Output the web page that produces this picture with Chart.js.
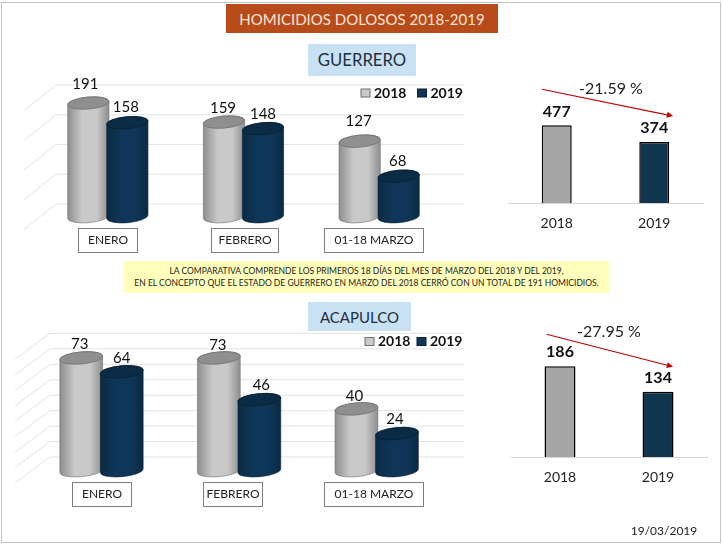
<!DOCTYPE html>
<html lang="es">
<head>
<meta charset="utf-8">
<title>Homicidios dolosos 2018-2019</title>
<script src="https://cdn.jsdelivr.net/npm/chart.js@4/dist/chart.umd.min.js"></script>
<style>
  html, body { margin: 0; padding: 0; background: #fff; overflow: hidden; }
  #page { position: relative; width: 723px; height: 546px; overflow: hidden; font-family: Lato, sans-serif; }
  #frame { position: absolute; left: 1px; top: 2px; width: 720px; height: 541px; border: 1px solid #c4c4c4; box-sizing: border-box; }
  canvas { position: absolute; left: 0; top: 0; }
  .tag { position: absolute; display: flex; align-items: center; justify-content: center; white-space: nowrap; z-index: 2; }
  #title { left: 226px; top: 4px; width: 272px; height: 29px; background: #b84b1a; color: #fbe5d6; font-size: 15px; }
  .place { background: #c8e1f3; color: #1f2f3f; }
  #guerrero { left: 308px; top: 44px; width: 108px; height: 32px; font-size: 16.7px; }
  #acapulco { left: 308px; top: 302px; width: 103px; height: 29px; font-size: 15px; }
  #note { left: 124px; top: 261px; width: 485px; height: 32px; background: #ffffbb; color: #222; font-size: 8.5px; line-height: 12px; text-align: center; }
  #date { left: 631px; top: 523px; width: 66px; height: 15px; color: #222; font-size: 12px; }
</style>
</head>
<body>
<div id="page">
  <div id="frame"></div>
  <div class="tag" id="title">HOMICIDIOS DOLOSOS 2018-2019</div>
  <div class="tag place" id="guerrero">GUERRERO</div>
  <div class="tag" id="note"><span>LA COMPARATIVA COMPRENDE LOS PRIMEROS 18 DÍAS DEL MES DE MARZO DEL 2018 Y DEL 2019,<br>EN EL CONCEPTO QUE EL ESTADO DE GUERRERO EN MARZO DEL 2018 CERRÓ CON UN TOTAL DE 191 HOMICIDIOS.</span></div>
  <div class="tag place" id="acapulco">ACAPULCO</div>
  <div class="tag" id="date">19/03/2019</div>
</div>
<script>
const months = ['ENERO', 'FEBRERO', '01-18 MARZO'];
const years = ['2018', '2019'];
const guerrero2018 = [191, 159, 127];
const guerrero2019 = [158, 148, 68];
const guerreroTotals = [477, 374];
const acapulco2018 = [73, 73, 40];
const acapulco2019 = [64, 46, 24];
const acapulcoTotals = [186, 134];

const pageW = 723;
const pageH = 546;
const gray = '#a6a6a6';
const navy = '#10354f';
const fontName = 'Lato, sans-serif';

Chart.defaults.animation = false;
Chart.defaults.font.family = fontName;

function addCanvas() {
  const c = document.createElement('canvas');
  c.width = pageW;
  c.height = pageH;
  document.getElementById('page').appendChild(c);
  return c.getContext('2d');
}

function areaPadding(left, top, right, bottom) {
  return { left: left, top: top, right: pageW - right, bottom: pageH - bottom };
}

function centerText(ctx, text, x, y, font, color) {
  ctx.font = font;
  ctx.fillStyle = color;
  ctx.textAlign = 'center';
  ctx.textBaseline = 'middle';
  ctx.fillText(text, x, y);
}

function drawCylinder(ctx, x, top, base, rx, shades) {
  const ry = 6;
  const tilt = -0.09;
  const grad = ctx.createLinearGradient(x - rx, 0, x + rx, 0);
  grad.addColorStop(0, shades[0]);
  grad.addColorStop(0.35, shades[1]);
  grad.addColorStop(0.7, shades[1]);
  grad.addColorStop(1, shades[0]);

  ctx.beginPath();
  ctx.ellipse(x, base, rx, ry, tilt, 0, Math.PI);
  ctx.ellipse(x, top, rx, ry, tilt, Math.PI, Math.PI * 2);
  ctx.closePath();
  ctx.fillStyle = grad;
  ctx.fill();
  ctx.strokeStyle = shades[3];
  ctx.lineWidth = 0.6;
  ctx.stroke();

  ctx.beginPath();
  ctx.ellipse(x, top, rx, ry, tilt, 0, Math.PI * 2);
  ctx.fillStyle = shades[2];
  ctx.fill();
  ctx.strokeStyle = shades[3];
  ctx.lineWidth = 0.8;
  ctx.stroke();
}

// gridlines, cylinders, value labels, boxed months and legend of the big charts
const cylinderPlugin = {
  id: 'cylinders',
  beforeDatasetsDraw(chart, args, o) {
    const ctx = chart.ctx;
    const y = chart.scales.y;
    ctx.save();
    ctx.strokeStyle = '#e3e3e3';
    ctx.lineWidth = 1;
    y.ticks.forEach(t => {
      const py = y.getPixelForValue(t.value) - o.backDrop;
      ctx.beginPath();
      ctx.moveTo(o.gridRight, py);
      ctx.lineTo(o.gridLeft, py);
      ctx.lineTo(o.gridLeft - o.sideX, py + o.sideY);
      ctx.stroke();
    });

    chart.data.datasets.forEach((ds, d) => {
      chart.getDatasetMeta(d).data.forEach(bar => {
        drawCylinder(ctx, bar.x, bar.y, bar.base, bar.width / 2 + 1.2, ds.shades);
      });
    });

    chart.data.datasets.forEach((ds, d) => {
      chart.getDatasetMeta(d).data.forEach((bar, i) => {
        const s = o.labelShift[d][i];
        centerText(ctx, ds.data[i], bar.x + s[0], bar.y + s[1], '15px ' + fontName, '#111');
      });
    });

    chart.data.labels.forEach((label, i) => {
      const b = o.boxes[i];
      ctx.strokeStyle = '#7f7f7f';
      ctx.lineWidth = 1;
      ctx.strokeRect(b[0] + 0.5, o.boxTop + 0.5, b[1], o.boxH);
      centerText(ctx, label, b[0] + b[1] / 2 + 0.5, o.boxTop + o.boxH / 2 + 0.5, '12px ' + fontName, '#222');
    });

    chart.data.datasets.forEach((ds, d) => {
      const k = o.legend[d];
      ctx.fillStyle = ds.shades[1];
      ctx.fillRect(k, o.legendY - 4, 9, 8);
      ctx.strokeStyle = ds.shades[3];
      ctx.lineWidth = 1;
      ctx.strokeRect(k, o.legendY - 4, 9, 8);
      ctx.font = 'bold 14px ' + fontName;
      ctx.fillStyle = '#111';
      ctx.textAlign = 'left';
      ctx.textBaseline = 'middle';
      ctx.fillText(ds.label, k + 13, o.legendY);
    });
    ctx.restore();
    return false;
  }
};

// bold totals above the bars and the red trend arrow
const totalsPlugin = {
  id: 'totals',
  afterDatasetsDraw(chart, args, o) {
    const ctx = chart.ctx;
    const ds = chart.data.datasets[0];
    const bars = chart.getDatasetMeta(0).data;
    ctx.save();
    bars.forEach((bar, i) => {
      centerText(ctx, ds.data[i], bar.x, bar.y + o.labelDy[i], 'bold 16px ' + fontName, '#111');
    });

    const x1 = bars[0].x - bars[0].width / 2 + o.from[0];
    const y1 = bars[0].y + o.from[1];
    const x2 = bars[1].x + bars[1].width / 2 + o.to[0];
    const y2 = bars[1].y + o.to[1];
    const ang = Math.atan2(y2 - y1, x2 - x1);
    ctx.strokeStyle = '#c00000';
    ctx.fillStyle = '#c00000';
    ctx.lineWidth = 1.1;
    ctx.beginPath();
    ctx.moveTo(x1, y1);
    ctx.lineTo(x2 - 5 * Math.cos(ang), y2 - 5 * Math.sin(ang));
    ctx.stroke();
    ctx.beginPath();
    ctx.moveTo(x2, y2);
    ctx.lineTo(x2 - 7 * Math.cos(ang - 0.45), y2 - 7 * Math.sin(ang - 0.45));
    ctx.lineTo(x2 - 7 * Math.cos(ang + 0.45), y2 - 7 * Math.sin(ang + 0.45));
    ctx.closePath();
    ctx.fill();
    centerText(ctx, o.text, o.textX, o.textY, '16px ' + fontName, '#222');
    ctx.restore();
  }
};

function cylinderChart(s2018, s2019, pad, catPct, yMax, step, opts) {
  return new Chart(addCanvas(), {
    type: 'bar',
    data: {
      labels: months,
      datasets: [
        { label: years[0], data: s2018, backgroundColor: gray, shades: ['#8e8e8e', '#c9c9c9', '#8f8f8f', '#6f6f6f'] },
        { label: years[1], data: s2019, backgroundColor: navy, shades: ['#0a2a44', '#0f3658', '#0b2c47', '#08202f'] }
      ]
    },
    options: {
      responsive: false,
      layout: { padding: pad },
      categoryPercentage: catPct,
      barPercentage: 1,
      scales: {
        x: { display: false },
        y: { display: false, min: 0, max: yMax, ticks: { stepSize: step, autoSkip: false } }
      },
      plugins: { legend: { display: false }, tooltip: { enabled: false }, cylinders: opts }
    },
    plugins: [cylinderPlugin]
  });
}

function totalsChart(values, pad, barPct, yMax, opts) {
  return new Chart(addCanvas(), {
    type: 'bar',
    data: {
      labels: years,
      datasets: [{ data: values, backgroundColor: [gray, navy], borderColor: '#000', borderWidth: 1.5 }]
    },
    options: {
      responsive: false,
      layout: { padding: pad },
      categoryPercentage: 1,
      barPercentage: barPct,
      scales: {
        x: {
          grid: { display: false, drawTicks: false },
          border: { color: '#d4d4d4' },
          ticks: { color: '#222', padding: 12, font: { size: 14 } },
          afterFit(scale) { scale.height = 30; }
        },
        y: { display: false, min: 0, max: yMax }
      },
      plugins: { legend: { display: false }, tooltip: { enabled: false }, totals: opts }
    },
    plugins: [totalsPlugin]
  });
}

cylinderChart(guerrero2018, guerrero2019, areaPadding(40, 97.7, 447, 216.7), 0.575, 200, 50, {
  backDrop: 12.7, gridLeft: 56, gridRight: 464, sideX: 32, sideY: 25.5,
  labelShift: [
    [[-3, -19], [-1, -14], [-1, -20]],
    [[-1.5, -16], [0, -14], [-1, -15.5]]
  ],
  boxes: [[78, 59], [211, 67], [324, 99]], boxTop: 228, boxH: 24,
  legend: [361, 417.5], legendY: 93
});

totalsChart(guerreroTotals, areaPadding(508, 121.5, 703, 203.3 + 30), 0.307, 500, {
  labelDy: [-13.5, -14],
  from: [0, -36], to: [4, -26],
  text: '-21.59 %', textX: 611, textY: 89
});

cylinderChart(acapulco2018, acapulco2019, areaPadding(32.7, 347.1, 445.5, 470.7), 0.589, 80, 10, {
  backDrop: 13.7, gridLeft: 50, gridRight: 464, sideX: 35, sideY: 26,
  labelShift: [
    [[-1.5, -14], [-1, -13], [-2, -13]],
    [[0, -13.5], [2, -14.5], [-2, -14.5]]
  ],
  boxes: [[72, 59], [203, 59], [324, 99]], boxTop: 482, boxH: 24,
  legend: [365, 417], legendY: 341.5
});

totalsChart(acapulcoTotals, areaPadding(511, 359.5, 707, 457 + 30), 0.316, 200, {
  labelDy: [-14.5, -13.5],
  from: [2, -32], to: [-0.4, -25],
  text: '-27.95 %', textX: 609, textY: 332
});
</script>
</body>
</html>
